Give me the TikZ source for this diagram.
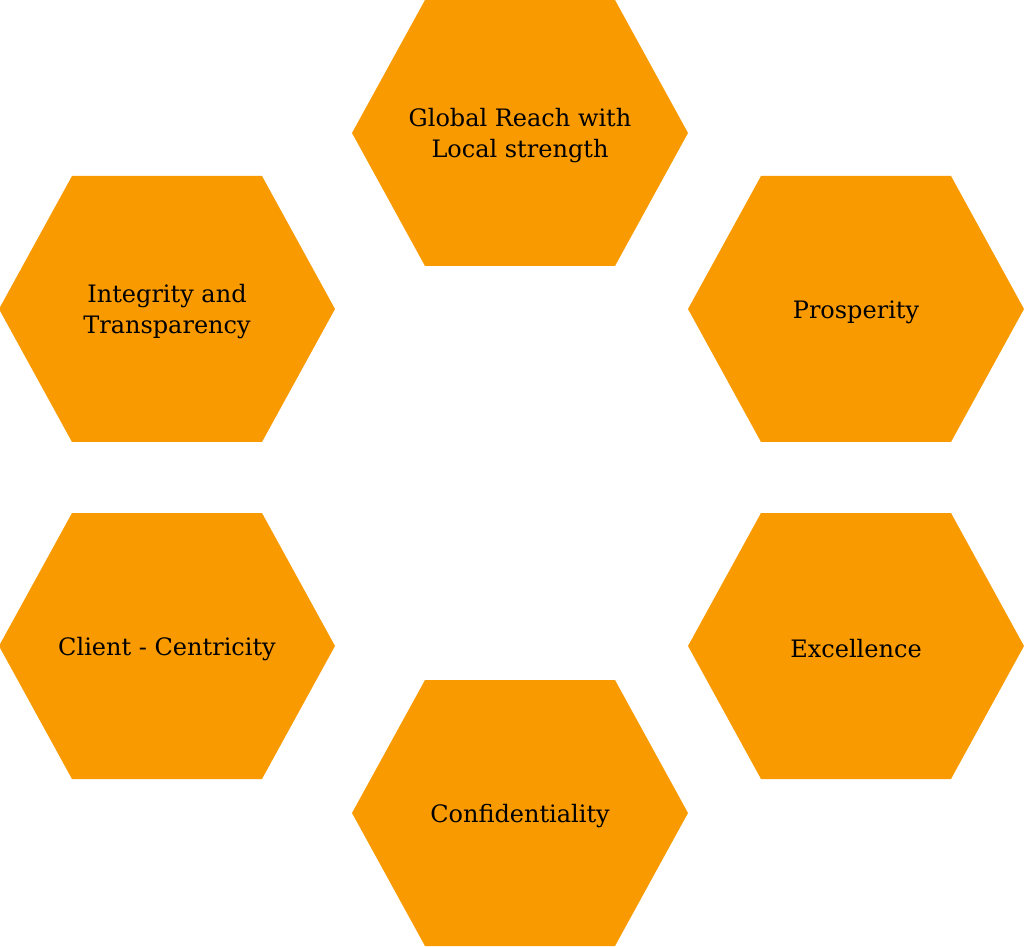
\documentclass[tikz,border=0pt]{standalone}
\usepackage{fontspec}
\setmainfont{DejaVu Serif}
\definecolor{hexorange}{HTML}{F99B00}
\tikzset{celltext/.style={align=center,font=\fontsize{24}{31}\selectfont,text=black}}
\begin{document}
\begin{tikzpicture}[x=1pt,y=1pt]

    \useasboundingbox (0,0) rectangle (1024,946);

    \foreach \cx/\cy/\name/\txt in {520/813/reach/{Global Reach with\\Local strength},
        856/637/prosperity/{Prosperity},
        856/300/excellence/{Excellence},
        520/133/confidentiality/{Confidentiality},
        167/300/client/{Client - Centricity},
        167/637/integrity/{Integrity and\\Transparency}}
    {
        \fill[hexorange] (\cx-168,\cy)--(\cx-95,\cy+133)--(\cx+95,\cy+133)--(\cx+168,\cy)--(\cx+95,\cy-133)--(\cx-95,\cy-133)--cycle;
        \node[celltext] (\name) at (\cx,\cy-3) {\txt};
    }
\end{tikzpicture}
\end{document}
